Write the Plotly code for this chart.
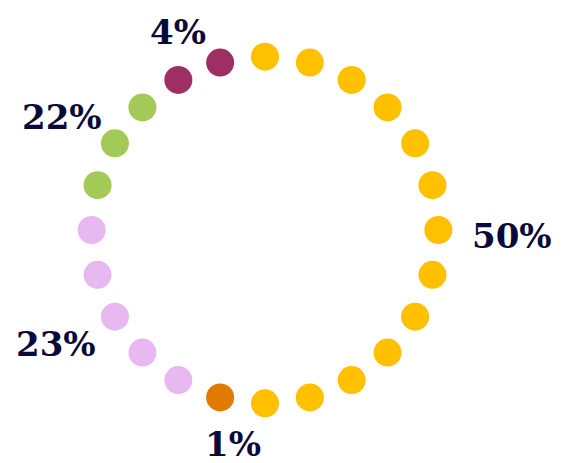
import plotly.graph_objects as go

# Data: share of dots per category (24 dots in the ring, clockwise from the top)
categories = ["50%", "1%", "23%", "22%", "4%"]
dot_counts = [13, 1, 5, 3, 2]
colors = ["#FFC000", "#E07B00", "#E8B8F0", "#A3C957", "#9E2F63"]
labels = ["50%", "1%", "23%", "22%", "4%"]
# label positions in pixels (x, y from top)
label_px = [(512, 236), (233, 444), (56, 344), (62, 117), (178, 32)]

W, H = 570, 463
cx, cy, ring = 265, 230, 173.5
rmax = 1.2
R = ring * rmax
left, right = cx - R, W - (cx + R)
top, bottom = cy - R, H - (cy + R)

total = sum(dot_counts)
step = 360 / total

fig = go.Figure()
idx = 0
for cat, n, col in zip(categories, dot_counts, colors):
    thetas = [(idx + k) * step for k in range(n)]
    idx += n
    fig.add_trace(go.Scatterpolar(
        r=[1] * n, theta=thetas, mode="markers", name=cat,
        marker=dict(size=28, color=col, line=dict(width=0)),
        hoverinfo="skip", showlegend=False,
    ))

for lab, (px, py) in zip(labels, label_px):
    fig.add_annotation(
        text=lab, xref="paper", yref="paper",
        x=(px - left) / (2 * R), y=(H - bottom - py) / (2 * R),
        xanchor="center", yanchor="middle", showarrow=False,
        font=dict(family="DejaVu Serif", size=34, color="#0A0A3A", weight="bold"),
    )

fig.update_layout(
    width=W, height=H,
    margin=dict(l=left, r=right, t=top, b=bottom, autoexpand=False),
    paper_bgcolor="white", plot_bgcolor="white",
    polar=dict(
        bgcolor="white",
        domain=dict(x=[0, 1], y=[0, 1]),
        angularaxis=dict(rotation=90, direction="clockwise", visible=False, showgrid=False),
        radialaxis=dict(range=[0, rmax], visible=False, showgrid=False),
    ),
)

fig.write_html("out.html", config={"displayModeBar": False},
               post_script="document.body.style.margin='0';")
